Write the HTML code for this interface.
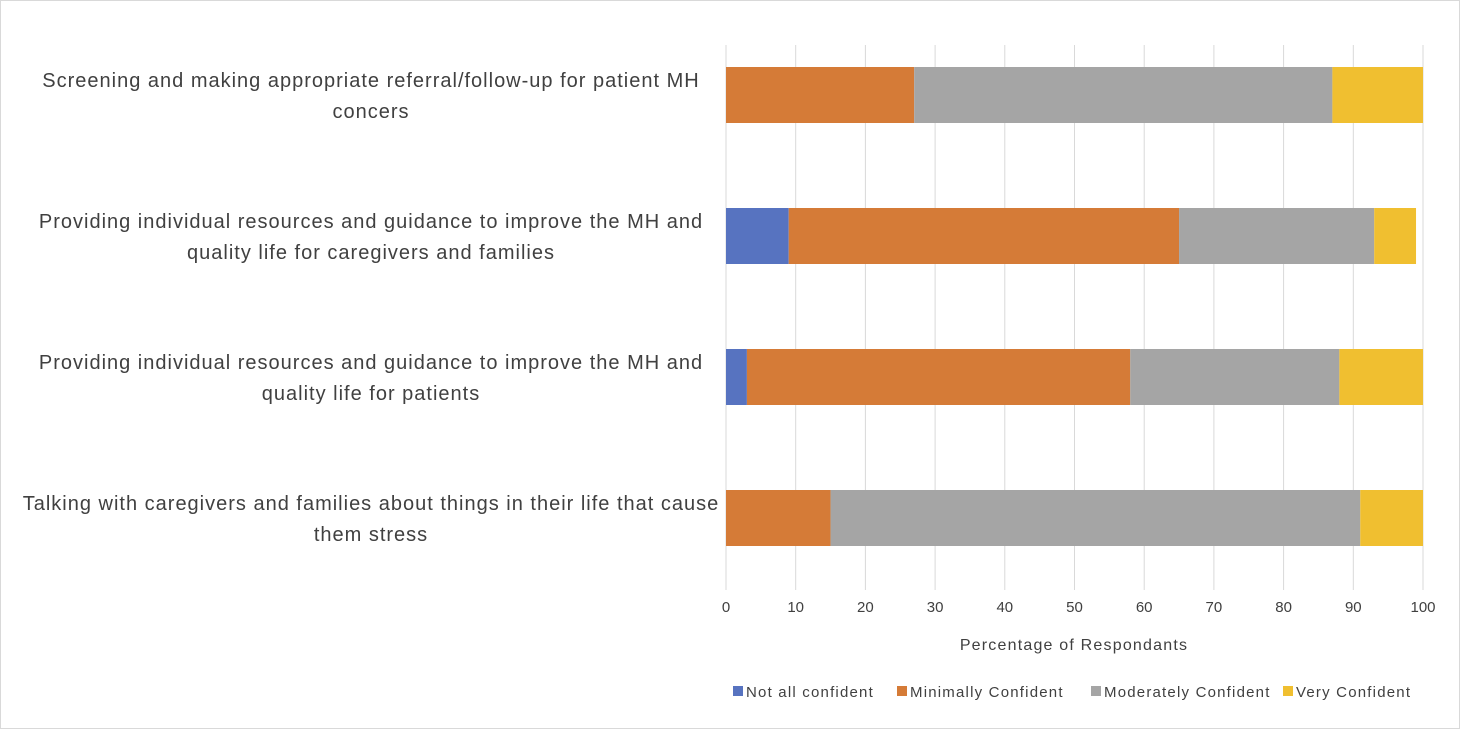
<!DOCTYPE html>
<html><head><meta charset="utf-8"><style>
body{margin:0;background:#fff;}
svg text{font-family:"Liberation Sans",sans-serif;fill:#404040;}
</style></head><body>
<svg width="1460" height="729" xmlns="http://www.w3.org/2000/svg">
<rect x="0.5" y="0.5" width="1459" height="728" fill="#fff" stroke="#d9d9d9"/>
<g id="grid"></g><g id="bars"></g><g id="labels"></g>
<text x="1074" y="650" text-anchor="middle" font-size="16" letter-spacing="1.2">Percentage of Respondants</text>
<g id="legend"></g>
</svg>
<script>
const categories=[
 ["Screening and making appropriate referral/follow-up for patient MH","concers"],
 ["Providing individual resources and guidance to improve the MH and","quality life for caregivers and families"],
 ["Providing individual resources and guidance to improve the MH and","quality life for patients"],
 ["Talking with caregivers and families about things in their life that cause","them stress"]];
const seriesNames=["Not all confident","Minimally Confident","Moderately Confident","Very Confident"];
const notAll=[0,9,3,0];
const minimally=[27,56,55,15];
const moderately=[60,28,30,76];
const very=[13,6,12,9];
const ticks=[0,10,20,30,40,50,60,70,80,90,100];
const colors=["#5773c0","#d57b37","#a5a5a5","#f0bf30"];
const NS="http://www.w3.org/2000/svg";
const x=v=>726+v*6.97;
const yTop=i=>67+i*141;
function mk(tag,a,p){const e=document.createElementNS(NS,tag);for(const k in a)e.setAttribute(k,a[k]);p.appendChild(e);return e;}
const grid=document.getElementById('grid');
ticks.forEach(t=>{
 const l=mk('line',{x1:x(t),x2:x(t),y1:45,y2:590,stroke:'#d9d9d9','stroke-width':1},grid);
 
 
 const tx=mk('text',{x:x(t),y:612,'text-anchor':'middle','font-size':15},grid);
 tx.textContent=t;
 
 
});
const series=[notAll,minimally,moderately,very];
const bars=document.getElementById('bars');
categories.forEach((c,i)=>{
 let acc=0;
 series.forEach((s,j)=>{
  const v=s[i];
  if(v>0){const r=mk('rect',{x:x(acc),y:yTop(i),width:x(acc+v)-x(acc),height:56,fill:colors[j]},bars);
  
  }
  acc+=v;
 });
 const lab=document.getElementById('labels');
 c.forEach((line,k)=>{
  const t=mk('text',{x:371,y:yTop(i)+20+k*31,'text-anchor':'middle','font-size':20,'letter-spacing':1},lab);
  t.textContent=line;
  
  
 });
});
const leg=document.getElementById('legend');
const lx=[733,897,1091,1283];
seriesNames.forEach((n,j)=>{
 const r=mk('rect',{x:lx[j],y:686,width:10,height:10,fill:colors[j]},leg);
 
 
 const t=mk('text',{x:lx[j]+13,y:697,'font-size':15,'letter-spacing':1.2},leg);
 t.textContent=n;
 
 
});
</script>
</body></html>
